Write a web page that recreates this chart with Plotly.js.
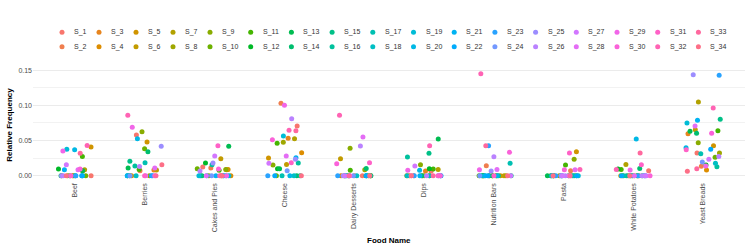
<!DOCTYPE html>
<html><head><meta charset="utf-8">
<script src="https://cdn.plot.ly/plotly-3.0.1.min.js"></script>
<style>html,body{margin:0;padding:0;background:#fff}</style>
</head><body><div id="chart" style="width:747px;height:249px"></div>
<script>
const categories = ["Beef","Berries","Cakes and Pies","Cheese","Dairy Desserts","Dips","Nutrition Bars","Pasta","White Potatoes","Yeast Breads"];
const seriesNames = Array.from({length:34}, (_, i) => "S_" + (i + 1));
const xTitle = "Food Name";
const yTitle = "Relative Frequency";

// values of S_1 ... S_34 for each food
const beef      = [0,0,.0071,0,.041,0,.0085,0,0,0, .0275,.0095,.007,0,0,0,0,0,.0375,.037, .0085,0,0,0,0,0,.0157,.0085,.035,.0095, 0,.043,.032,0];
const berries   = [.058,.0071,.008,0,.048,.008,0,0,.0627,.0385, .009,0,.011,.034,.0204,.0138,.0185,0,0,.0527, 0,0,0,0,.0418,.013,0,.011,.0688,0, 0,.0859,0,.0157];
const cakes     = [.0123,.011,.0085,0,.009,.0242,0,0,.009,.01, .0076,.018,.0418,0,0,.0157,0,0,0,0, 0,0,0,0,.018,.0066,.028,0,0,.0095, .0427,0,0,0];
const cheese    = [.0707,.103,.0532,.0328,.0252,.0161,.0527,.0475,.0152,0, .046,.01,.01,0,0,.018,0,0,.0565,0, .0256,0,0,.0071,.0233,.0812,.0176,.028,.1002,.0513, .0185,.0646,.064,0];
const dairy     = [0,0,0,0,0,.0242,0,.0085,.0389,0, .0076,0,0,.0104,0,0,0,0,0,0, 0,0,0,0,0,.0422,0,.0551,0,.0171, .0185,.0859,0,0];
const dips      = [.0062,0,.0066,0,0,0,.009,0,.0157,0, .0095,.01,.0522,0,.0318,.0266,0,0,0,.0076, 0,0,0,0,0,0,.0138,0,.0076,0, 0,.0427,0,0];
const nutrition = [0,.0142,0,0,0,0,0,0,0,0, 0,0,0,0,0,0,.0176,0,0,0, 0,0,.0427,0,.0066,.027,0,.009,.0085,.0332, 0,.145,.0427,0];
const pasta     = [0,.0071,0,0,.0342,0,0,0,.0233,0, .0152,0,0,0,0,0,0,0,0,0, 0,0,0,0,0,0,0,.0085,0,.0085, .0323,.009,0,0];
const potatoes  = [.0071,0,0,0,0,0,.0161,0,0,0, .009,.0095,0,.0104,0,0,0,0,0,.0522, 0,0,0,0,0,0,0,0,.008,0, .0157,.009,.0323,0];
const yeast     = [.0323,.0133,.0598,.008,.0427,.0655,.1049,.0323,.047,.0261, .0641,.0152,.0631,.0603,.0802,.0128,.0313,.0176,.075,.0399, .0788,.0375,.1429,.0195,.1438,.0275,.0233,.0707,.0138,.0603, .037,.0964,.01,.0062];
const valuesByCategory = [beef, berries, cakes, cheese, dairy, dips, nutrition, pasta, potatoes, yeast];

// ggplot-like hue palette (HCL, c=100, l=65)
function hcl(h, c, l) {
  const hr = h * Math.PI / 180;
  const U = c * Math.cos(hr), V = c * Math.sin(hr);
  const Xn = 95.047, Yn = 100, Zn = 108.883;
  const un = 4 * Xn / (Xn + 15 * Yn + 3 * Zn), vn = 9 * Yn / (Xn + 15 * Yn + 3 * Zn);
  const Y = l > 8 ? Yn * Math.pow((l + 16) / 116, 3) : Yn * l / 903.3;
  const u = U / (13 * l) + un, v = V / (13 * l) + vn;
  const X = 9 * Y * u / (4 * v);
  const Z = -X / 3 - 5 * Y + 3 * Y / v;
  const x = X / 100, y = Y / 100, z = Z / 100;
  let r = 3.240479 * x - 1.537150 * y - 0.498535 * z;
  let g = -0.969256 * x + 1.875992 * y + 0.041556 * z;
  let b = 0.055648 * x - 0.204043 * y + 1.057311 * z;
  const gam = t => { t = t <= 0.0031308 ? 12.92 * t : 1.055 * Math.pow(t, 1 / 2.4) - 0.055; return Math.round(Math.max(0, Math.min(1, t)) * 255); };
  return "rgb(" + gam(r) + "," + gam(g) + "," + gam(b) + ")";
}
const colors = seriesNames.map((_, i) => hcl(15 + 360 * i / 34, 100, 65));

// deterministic jitter (like geom_jitter)
function mulberry32(a){return function(){a|=0;a=a+0x6D2B79F5|0;let t=Math.imul(a^a>>>15,1|a);t=t+Math.imul(t^t>>>7,61|t)^t;return((t^t>>>14)>>>0)/4294967296;};}
const rand = mulberry32(20240);
const JITTER = 0.25;

const FONT = "Liberation Sans, Arial, sans-serif";
const traces = seriesNames.map((name, s) => ({
  type: "scatter", mode: "markers", name: name,
  x: categories.map((_, c) => c + (rand() * 2 - 1) * JITTER),
  y: valuesByCategory.map(arr => arr[s]),
  text: categories,
  hovertemplate: name + "<br>%{text}: %{y:.3f}<extra></extra>",
  marker: { color: colors[s], size: 5, line: { width: 0 } },
  showlegend: false
}));

const H = 249, W = 747;

// custom two-row legend (column-major, like ggplot)
const legX = [], legY = [], annotations = [];
let xPos = 62;
for (let c = 0; c < 17; c++) {
  const pair = [2 * c, 2 * c + 1];
  pair.forEach((s, r) => {
    legX.push(xPos); legY.push(r === 0 ? 32.3 : 46.8);
    annotations.push({ xref: "x2", yref: "y2", x: xPos + 10, y: r === 0 ? 32.3 : 46.8, text: seriesNames[s],
      xanchor: "left", yanchor: "middle", showarrow: false, font: { family: FONT, size: 7, color: "#333" } });
  });
  const maxLen = Math.max(seriesNames[pair[0]].length, seriesNames[pair[1]].length);
  xPos += maxLen <= 3 ? 37 : 40.7;
}
traces.push({
  type: "scatter", mode: "markers", xaxis: "x2", yaxis: "y2", x: legX, y: legY,
  marker: { color: legX.map((_, i) => colors[i]), size: 5 }, hoverinfo: "skip", showlegend: false
});

// axis titles
annotations.push({ xref: "paper", yref: "paper", x: 389 / W, y: 1 - 240 / H, text: xTitle, showarrow: false,
  xanchor: "center", yanchor: "middle", font: { family: FONT, size: 8, color: "#000", weight: "bold" } });
annotations.push({ xref: "paper", yref: "paper", x: 10 / W, y: 1 - 124.7 / H, text: yTitle, showarrow: false, textangle: -90,
  xanchor: "center", yanchor: "middle", font: { family: FONT, size: 8, color: "#000", weight: "bold" } });

const layout = {
  width: W, height: H,
  margin: { l: 0, r: 0, t: 0, b: 0 },
  paper_bgcolor: "#fff", plot_bgcolor: "#fff",
  showlegend: false,
  font: { family: FONT, color: "#4d4d4d" },
  xaxis: {
    domain: [33 / W, 745 / W], range: [-0.6, 9.6],
    tickmode: "array", tickvals: categories.map((_, i) => i), ticktext: categories,
    tickangle: -90, showgrid: false, zeroline: false, showline: false, ticks: "",
    tickfont: { family: FONT, size: 7, color: "#4d4d4d" }
  },
  yaxis: {
    domain: [(H - 180.8) / H, (H - 68.7) / H], range: [-0.00725, 0.15225],
    tick0: 0, dtick: 0.05, tickformat: ".2f",
    showgrid: true, gridcolor: "#ebebeb", gridwidth: 1, zeroline: false, showline: false, ticks: "",
    minor: { tickmode: "linear", tick0: 0, dtick: 0.025, showgrid: true, gridcolor: "#efefef", gridwidth: 0.8, ticks: "" },
    tickfont: { family: FONT, size: 7, color: "#4d4d4d" }
  },
  xaxis2: { domain: [0, 1], range: [0, W], anchor: "y2", visible: false, fixedrange: true },
  yaxis2: { domain: [0.76, 1], range: [0.24 * H, 0], anchor: "x2", visible: false, fixedrange: true },
  annotations: annotations
};
Plotly.newPlot("chart", traces, layout, { displayModeBar: false, staticPlot: true });
</script>
</body></html>
